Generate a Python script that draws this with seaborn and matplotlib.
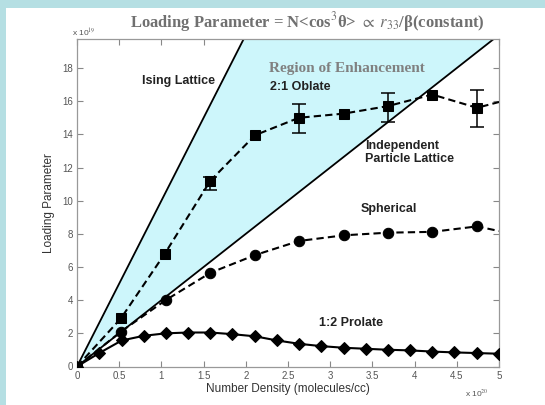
import matplotlib
matplotlib.use("Agg")
import matplotlib.pyplot as plt
import seaborn as sns
import numpy as np
import pandas as pd

# ---- data ----
oblate_x = [0.0, 0.52, 1.04, 1.58, 2.11, 2.63, 3.16, 3.68, 4.21, 4.74, 5.0]
oblate_y = [0.0, 2.9, 6.8, 11.2, 13.95, 15.0, 15.25, 15.7, 16.4, 15.6, 15.95]
err_x = [1.58, 2.63, 3.68, 4.74]
err_center = [11.2, 15.0, 15.7, 15.6]
err_low = [10.67, 14.09, 14.76, 14.45]
err_high = [11.44, 15.86, 16.5, 16.7]

spher_x = [0.0, 0.52, 1.05, 1.58, 2.11, 2.63, 3.16, 3.68, 4.21, 4.74, 5.0]
spher_y = [0.0, 2.1, 4.0, 5.65, 6.72, 7.57, 7.91, 8.07, 8.12, 8.45, 8.17]

prol_x = [0.0, 0.26, 0.53, 0.79, 1.05, 1.32, 1.58, 1.84, 2.11, 2.37,
          2.63, 2.89, 3.16, 3.42, 3.68, 3.95, 4.21, 4.47, 4.74, 5.0]
prol_y = [0.0, 0.8, 1.57, 1.85, 2.0, 2.05, 2.05, 1.95, 1.82, 1.57,
          1.37, 1.23, 1.13, 1.07, 1.01, 0.97, 0.9, 0.85, 0.81, 0.77]

ising_slope = 10.0
ipl_slope = 4.0
line_x = [0.0, 5.0]

x_ticks = [0, 0.5, 1, 1.5, 2, 2.5, 3, 3.5, 4, 4.5, 5]
x_ticklabels = ["0", "0.5", "1", "1.5", "2", "2.5", "3", "3.5", "4", "4.5", "5"]
y_ticks = [0, 2, 4, 6, 8, 10, 12, 14, 16, 18]
y_ticklabels = [str(v) for v in y_ticks]

sns.set_theme(style="white")
plt.rcParams['font.family'] = ['Liberation Sans', 'DejaVu Sans']
plt.rcParams['mathtext.fontset'] = 'stix'

BORDER = "#b5dfe3"
SHADE = "#cdf6fb"
GRAY = "#555555"

fig = plt.figure(figsize=(5.45, 4.05), dpi=100, facecolor=BORDER)
# white panel (cyan border on left and top)
bg = fig.add_axes([6/545, 0, 1 - 6/545, 1 - 8/405], zorder=-10)
bg.set_facecolor("white")
bg.set_xticks([]); bg.set_yticks([])
for s in bg.spines.values():
    s.set_visible(False)

ax = fig.add_axes([77/545, 1 - 366.5/405, (499-77)/545, (366.5-39)/405], zorder=1)
ax.set_facecolor("white")

lx = np.array(line_x)
xf = np.linspace(lx[0], lx[1], 200)
ax.fill_between(xf, ipl_slope * xf, ising_slope * xf, color=SHADE, zorder=1, lw=0)
ax.plot(lx, ising_slope * lx, color="black", lw=1.3, zorder=2)
ax.plot(lx, ipl_slope * lx, color="black", lw=1.3, zorder=2)

df_o = pd.DataFrame({"x": oblate_x, "y": oblate_y})
df_s = pd.DataFrame({"x": spher_x, "y": spher_y})
df_p = pd.DataFrame({"x": prol_x, "y": prol_y})

sns.lineplot(data=df_o, x="x", y="y", ax=ax, color="black", lw=1.5, linestyle=(0, (3.5, 2)),
             marker="s", markersize=7, markeredgecolor="black", zorder=4, sort=False,
             markevery=list(range(len(oblate_x) - 1)))
sns.lineplot(data=df_s, x="x", y="y", ax=ax, color="black", lw=1.5, linestyle=(0, (3.5, 2)),
             marker="o", markersize=7.5, markeredgecolor="black", zorder=4, sort=False,
             markevery=list(range(len(spher_x) - 1)))
sns.lineplot(data=df_p, x="x", y="y", ax=ax, color="black", lw=1.5,
             marker="D", markersize=6, markeredgecolor="black", zorder=4, sort=False)

yerr = [np.array(err_center) - np.array(err_low), np.array(err_high) - np.array(err_center)]
ax.errorbar(err_x, err_center, yerr=yerr, fmt="none", ecolor="black", elinewidth=1.1,
            capsize=5, capthick=1.1, zorder=5)

ax.set_xlim(0, 5)
ax.set_ylim(0, 19.75)
ax.set_xticks(x_ticks)
ax.set_xticklabels(x_ticklabels)
ax.set_yticks(y_ticks)
ax.set_yticklabels(y_ticklabels)
ax.tick_params(direction="in", length=4, width=0.8, color="#888888", labelcolor=GRAY,
               labelsize=7, top=True, right=True, bottom=True, left=True, pad=3)
for s in ax.spines.values():
    s.set_color("#999999")
    s.set_linewidth(0.9)
    s.set_visible(True)

ax.set_xlabel("Number Density (molecules/cc)", fontsize=8.5, color="#333333", labelpad=2)
ax.set_ylabel("Loading Parameter", fontsize=8.5, color="#333333", labelpad=5)

fig.text(72/545, 1 - 33/405, r"x 10$^{19}$", fontsize=6, color=GRAY, va="center")
fig.text(465/545, 1 - 393/405, r"x 10$^{20}$", fontsize=6, color=GRAY, va="center")

txt = dict(fontsize=9, fontweight="bold", color="#222222", zorder=6)
ax.text(1.2, 17.2, "Ising Lattice", ha="center", va="center", **txt)
ax.text(2.64, 16.85, "2:1 Oblate", ha="center", va="center", **txt)
ax.text(3.41, 12.9, "Independent\nParticle Lattice", ha="left", va="center",
        linespacing=1.1, **txt)
ax.text(3.69, 9.5, "Spherical", ha="center", va="center", **txt)
ax.text(3.25, 2.6, "1:2 Prolate", ha="center", va="center", **txt)
ax.text(3.2, 17.95, "Region of Enhancement", ha="center", va="center", fontsize=11,
        fontweight="bold", color="#808080", family="Liberation Serif", zorder=6)

fig.text(307/545, 1 - 22/405,
         r"Loading Parameter = N<cos$^{3}$θ> $\propto$ $r_{33}$/β(constant)",
         ha="center", va="center", fontsize=12, fontweight="bold",
         color="#707070", family="Liberation Serif")

fig.savefig("out.png", dpi=100, facecolor=BORDER)
